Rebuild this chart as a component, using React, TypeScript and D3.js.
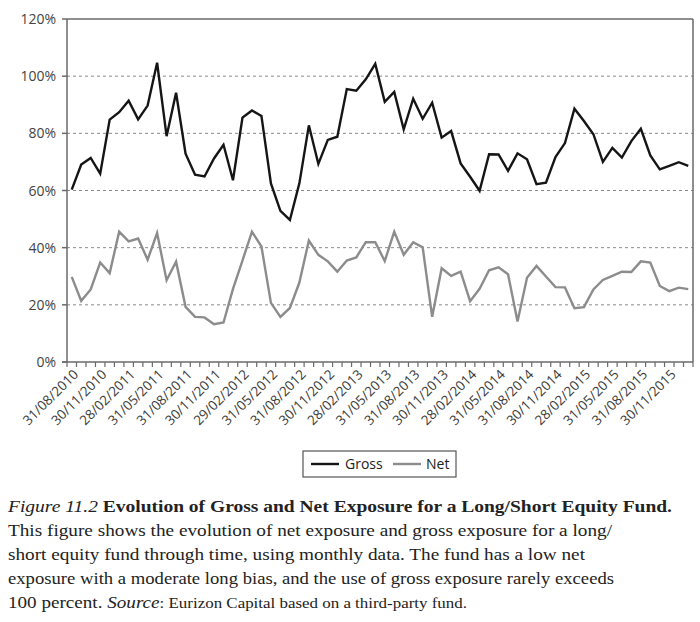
import React from "react";
import * as d3 from "d3";

const months: string[] = [
  "31/08/2010","30/09/2010","31/10/2010","30/11/2010","31/12/2010",
  "31/01/2011","28/02/2011","31/03/2011","30/04/2011","31/05/2011","30/06/2011","31/07/2011","31/08/2011","30/09/2011","31/10/2011","30/11/2011","31/12/2011",
  "31/01/2012","29/02/2012","31/03/2012","30/04/2012","31/05/2012","30/06/2012","31/07/2012","31/08/2012","30/09/2012","31/10/2012","30/11/2012","31/12/2012",
  "31/01/2013","28/02/2013","31/03/2013","30/04/2013","31/05/2013","30/06/2013","31/07/2013","31/08/2013","30/09/2013","31/10/2013","30/11/2013","31/12/2013",
  "31/01/2014","28/02/2014","31/03/2014","30/04/2014","31/05/2014","30/06/2014","31/07/2014","31/08/2014","30/09/2014","31/10/2014","30/11/2014","31/12/2014",
  "31/01/2015","28/02/2015","31/03/2015","30/04/2015","31/05/2015","30/06/2015","31/07/2015","31/08/2015","30/09/2015","31/10/2015","30/11/2015","31/12/2015",
  "31/01/2016",
];

const gross: number[] = [
  60.3, 69.1, 71.4, 65.9, 84.8, 87.4, 91.4, 84.9, 89.7, 104.7,
  79.0, 94.2, 72.9, 65.5, 64.9, 71.2, 76.0, 63.6, 85.5, 88.0,
  86.1, 62.5, 52.9, 49.7, 62.5, 82.8, 69.3, 77.7, 78.8, 95.5,
  94.9, 98.9, 104.3, 91.0, 94.5, 81.4, 92.1, 85.1, 90.7, 78.5,
  80.8, 69.5, 64.8, 59.9, 72.7, 72.6, 66.9, 73.0, 70.9, 62.2,
  62.7, 71.7, 76.6, 88.6, 84.3, 79.7, 70.0, 74.9, 71.5, 77.3,
  81.6, 72.3, 67.4, 68.6, 69.9, 68.6,
];

const net: number[] = [
  29.8, 21.4, 25.4, 34.8, 31.1, 45.6, 42.2, 43.2, 35.8, 45.1,
  28.6, 35.1, 19.3, 15.8, 15.6, 13.2, 13.8, 25.6, 35.5, 45.6,
  40.4, 20.7, 15.8, 18.9, 27.8, 42.5, 37.5, 35.2, 31.6, 35.5,
  36.6, 41.9, 41.9, 35.3, 45.6, 37.5, 41.9, 40.1, 15.8, 32.8,
  30.1, 31.6, 21.3, 25.6, 32.1, 33.1, 30.7, 14.2, 29.5, 33.6,
  29.9, 26.2, 26.1, 18.8, 19.2, 25.4, 28.7, 30.1, 31.6, 31.5,
  35.2, 34.8, 26.6, 24.8, 26.0, 25.5,
];

const yTicks: number[] = [0, 20, 40, 60, 80, 100, 120];
const xTickLabels: string[] = months.filter((_, i) => i % 3 === 0);

const seriesNames: string[] = ["Gross", "Net"];

const captionLines: string[] = [
  "This figure shows the evolution of net exposure and gross exposure for a long/",
  "short equity fund through time, using monthly data. The fund has a low net",
  "exposure with a moderate long bias, and the use of gross exposure rarely exceeds",
];

const SANS = "'Open Sans', 'DejaVu Sans', sans-serif";
const SERIF = "'Liberation Serif', 'DejaVu Serif', serif";

export default function App() {
  const left = 67, right = 693, top = 19, bottom = 362;
  const x = d3.scaleBand<string>().domain(months).range([left, right]).padding(0);
  const y = d3.scaleLinear().domain([0, 120]).range([bottom, top]);
  const cx = (m: string) => (x(m) as number) + x.bandwidth() / 2;

  const line = d3
    .line<number>()
    .x((_, i) => cx(months[i]))
    .y((d) => y(d));

  const boundaries = d3.range(months.length + 1).map((i) => left + i * x.bandwidth());

  return (
    <svg
      width={700}
      height={622}
      style={{ position: "absolute", left: 0, top: 0, background: "#fff" }}
    >
      {/* gridlines */}
      {yTicks
        .filter((t) => t > 0 && t < 120)
        .map((t) => (
          <line
            key={"g" + t}
            x1={left}
            x2={right}
            y1={y(t)}
            y2={y(t)}
            stroke="#8a8a8a"
            strokeWidth={1}
            strokeDasharray="3,3"
          />
        ))}
      {/* frame */}
      <line x1={left} x2={right} y1={top} y2={top} stroke="#6a6a6a" strokeWidth={1.5} />
      <line x1={right} x2={right} y1={top} y2={bottom} stroke="#6a6a6a" strokeWidth={1.5} />
      <line x1={left} x2={left} y1={top} y2={bottom} stroke="#6a6a6a" strokeWidth={1.5} />
      <line x1={left - 5} x2={right} y1={bottom} y2={bottom} stroke="#6a6a6a" strokeWidth={1.5} />
      {/* y ticks */}
      {yTicks.map((t) => (
        <g key={"y" + t}>
          <line x1={left - 5} x2={left} y1={y(t)} y2={y(t)} stroke="#6a6a6a" strokeWidth={1.5} />
          <text
            x={56}
            y={y(t)}
            dy="0.36em"
            textAnchor="end"
            fontFamily={SANS}
            fontSize={14}
            fill="#444"
          >
            {t}%
          </text>
        </g>
      ))}
      {/* x ticks */}
      {boundaries.map((bx, i) => (
        <line key={"xt" + i} x1={bx} x2={bx} y1={bottom} y2={bottom + 5} stroke="#6a6a6a" strokeWidth={1.2} />
      ))}
      {xTickLabels.map((m) => (
        <text
          key={"xl" + m}
          transform={`translate(${cx(m) + 4},${bottom + 10}) rotate(-45)`}
          textAnchor="end"
          dy="0.35em"
          fontFamily={SANS}
          fontSize={13.5}
          fill="#3a3a3a"
        >
          {m}
        </text>
      ))}
      {/* series */}
      <path d={line(net) || ""} fill="none" stroke="#8c8c8c" strokeWidth={2.4} strokeLinejoin="miter" />
      <path d={line(gross) || ""} fill="none" stroke="#151515" strokeWidth={2.4} strokeLinejoin="miter" />

      {/* legend */}
      <rect x={303} y={451} width={153} height={26} fill="#fff" stroke="#555" strokeWidth={1.2} />
      <line x1={311} x2={339} y1={464} y2={464} stroke="#151515" strokeWidth={2.4} />
      <text x={345} y={464} dy="0.36em" fontFamily={SANS} fontSize={14} fill="#222">
        {seriesNames[0]}
      </text>
      <line x1={393} x2={421} y1={464} y2={464} stroke="#8c8c8c" strokeWidth={2.4} />
      <text x={426} y={464} dy="0.36em" fontFamily={SANS} fontSize={14} fill="#222">
        {seriesNames[1]}
      </text>

      {/* caption */}
      <text x={8} y={512} fontFamily={SERIF} fontSize={17.5} fill="#222" textLength={664} lengthAdjust="spacingAndGlyphs">
        <tspan fontStyle="italic">Figure 11.2</tspan>
        <tspan fontWeight="bold">{"  Evolution of Gross and Net Exposure for a Long/Short Equity Fund."}</tspan>
      </text>
      {captionLines.map((l, i) => (
        <text
          key={"c" + i}
          x={8}
          y={536 + i * 24}
          fontFamily={SERIF}
          fontSize={17.5}
          fill="#222"
          textLength={[604, 577, 606][i]}
          lengthAdjust="spacingAndGlyphs"
        >
          {l}
        </text>
      ))}
      <text x={8} y={608} fontFamily={SERIF} fontSize={17.5} fill="#222" textLength={459} lengthAdjust="spacingAndGlyphs">
        <tspan>100 percent. </tspan>
        <tspan fontStyle="italic">Source</tspan>
        <tspan fontSize={15.5}>: Eurizon Capital based on a third-party fund.</tspan>
      </text>
    </svg>
  );
}
